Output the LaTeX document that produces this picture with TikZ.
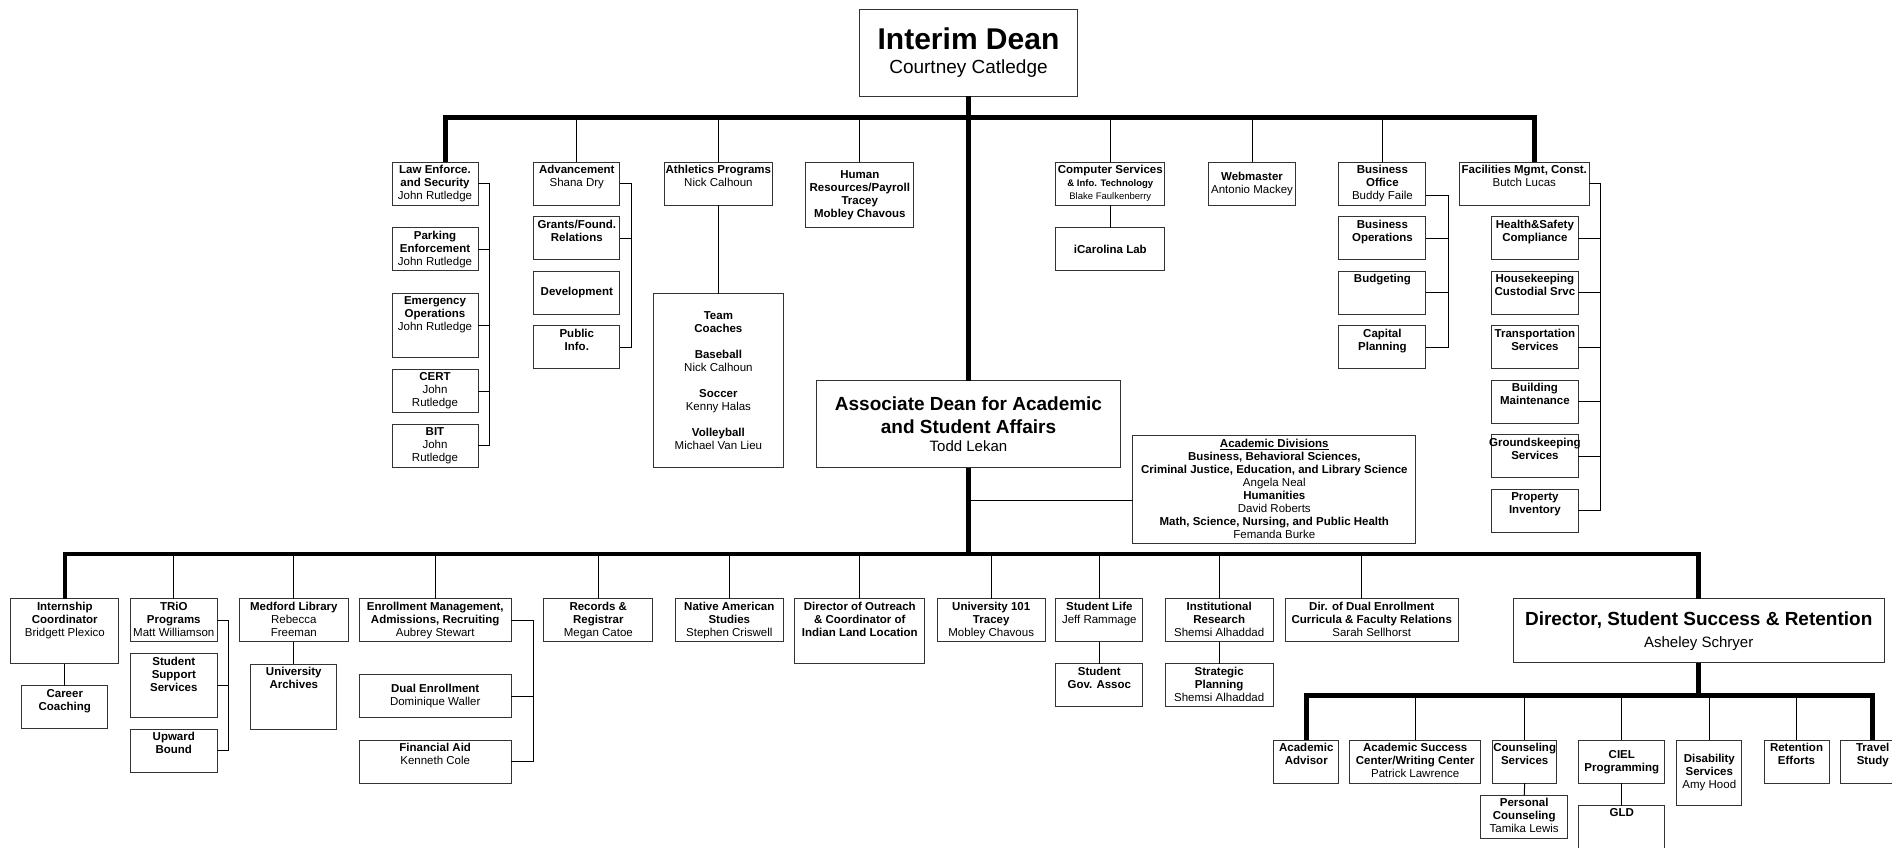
\documentclass[tikz,border=0pt]{standalone}
\usepackage{fontspec}
\setmainfont{Liberation Sans}
\newcommand\orgfont{\fontsize{11.5}{13}\selectfont}
\tikzset{
  orgbox/.style 2 args={draw=black!80, line width=1pt, minimum width=#1pt, minimum height=#2pt, inner sep=0pt, outer sep=0pt, align=center, font=\orgfont},
  toptext/.style={label={[headtext]north:{#1}}},
  headtext/.style={anchor=north, yshift=-3pt, inner sep=0pt, align=center, font=\orgfont},
  link/.style={line width=1pt},
  trunk/.style={line width=4.5pt, line join=miter},
}
\begin{document}
\begin{tikzpicture}[x=1pt,y=-1pt]
\useasboundingbox[fill=white] (0,0) rectangle (1892,848);

% dean and associate dean
\node[orgbox={218}{87}, font=\fontsize{19}{24}\selectfont] (dean) at (968.5,53) {\fontsize{30}{24}\selectfont\textbf{Interim Dean}\\Courtney Catledge};
\node[orgbox={304}{87}, font=\fontsize{19}{23}\selectfont] (assoc) at (968.5,424) {\textbf{Associate Dean for Academic}\\\textbf{and Student Affairs}\\[-5pt]\fontsize{15}{18}\selectfont Todd Lekan};
\node[orgbox={283}{108}] (acad) at (1274.3,489.2) {\underline{\textbf{Academic Divisions}}\\\textbf{Business, Behavioral Sciences,}\\\textbf{Criminal Justice, Education, and Library Science}\\Angela Neal\\\textbf{Humanities}\\David Roberts\\\textbf{Math, Science, Nursing, and Public Health}\\Femanda Burke};

% top row, left
\node[orgbox={86}{43}, toptext={\textbf{Law Enforce.}\\\textbf{and Security}\\John Rutledge}] (law) at (435,183.8) {};
\node[orgbox={86}{43}, toptext={\textbf{Parking}\\\textbf{Enforcement}\\John Rutledge}] (park) at (435,249.3) {};
\node[orgbox={86}{64}, toptext={\textbf{Emergency}\\\textbf{Operations}\\John Rutledge}] (emerg) at (435,325.5) {};
\node[orgbox={86}{43}, toptext={\textbf{CERT}\\John\\Rutledge}] (cert) at (435,391) {};
\node[orgbox={86}{43}, toptext={\textbf{BIT}\\John\\Rutledge}] (bit) at (435,445.7) {};

\node[orgbox={86}{43}, toptext={\textbf{Advancement}\\Shana Dry}] (adv) at (576.8,183.8) {};
\node[orgbox={86}{43}, toptext={\textbf{Grants/Found.}\\\textbf{Relations}}] (grants) at (576.8,238.3) {};
\node[orgbox={86}{43}] (dev) at (576.8,292.7) {\textbf{Development}};
\node[orgbox={86}{43}, toptext={\textbf{Public}\\\textbf{Info.}}] (pubinfo) at (576.8,347.3) {};

\node[orgbox={108}{43}, toptext={\textbf{Athletics Programs}\\Nick Calhoun}] (ath) at (718.4,183.8) {};
\node[orgbox={130}{174}] (coaches) at (718.4,380.5) {\textbf{Team}\\\textbf{Coaches}\\[13pt]\textbf{Baseball}\\Nick Calhoun\\[13pt]\textbf{Soccer}\\Kenny Halas\\[13pt]\textbf{Volleyball}\\Michael Van Lieu};
\node[orgbox={108}{65}] (hr) at (859.8,194.8) {\textbf{Human}\\\textbf{Resources/Payroll}\\\textbf{Tracey}\\\textbf{Mobley Chavous}};

% top row, right
\node[orgbox={109}{43}, toptext={\textbf{Computer Services}\\\fontsize{9.5}{11}\selectfont\textbf{\& Info. Technology}\\\fontsize{9.5}{11}\selectfont Blake Faulkenberry}] (cs) at (1110.3,183.8) {};
\node[orgbox={109}{43}] (icar) at (1110.3,249.2) {\textbf{iCarolina Lab}};
\node[orgbox={87}{43}] (web) at (1252,183.8) {\textbf{Webmaster}\\Antonio Mackey};
\node[orgbox={87}{43}, toptext={\textbf{Business}\\\textbf{Office}\\Buddy Faile}] (bo) at (1382.4,183.8) {};
\node[orgbox={87}{43}, toptext={\textbf{Business}\\\textbf{Operations}}] (bops) at (1382.4,238) {};
\node[orgbox={87}{43}, toptext={\textbf{Budgeting}}] (budg) at (1382.4,292.5) {};
\node[orgbox={87}{43}, toptext={\textbf{Capital}\\\textbf{Planning}}] (capp) at (1382.4,347.3) {};

\node[orgbox={130}{43}, toptext={\textbf{Facilities Mgmt, Const.}\\Butch Lucas}] (fac) at (1524.3,183.8) {};
\node[orgbox={87}{43}, toptext={\textbf{Health\&Safety}\\\textbf{Compliance}}] (health) at (1534.9,238) {};
\node[orgbox={87}{43}, toptext={\textbf{Housekeeping}\\\textbf{Custodial Srvc}}] (house) at (1534.9,292.5) {};
\node[orgbox={87}{43}, toptext={\textbf{Transportation}\\\textbf{Services}}] (trans) at (1534.9,347.3) {};
\node[orgbox={87}{43}, toptext={\textbf{Building}\\\textbf{Maintenance}}] (build) at (1534.9,401.7) {};
\node[orgbox={87}{43}, toptext={\textbf{Groundskeeping}\\\textbf{Services}}] (ground) at (1534.9,456.3) {};
\node[orgbox={87}{43}, toptext={\textbf{Property}\\\textbf{Inventory}}] (prop) at (1534.9,510.8) {};

% lower row
\node[orgbox={108}{65}, toptext={\textbf{Internship}\\\textbf{Coordinator}\\Bridgett Plexico}] (intern) at (64.8,631) {};
\node[orgbox={86}{43}, toptext={\textbf{Career}\\\textbf{Coaching}}] (career) at (64.8,707.3) {};
\node[orgbox={87}{43}, toptext={\textbf{TRiO}\\\textbf{Programs}\\Matt Williamson}] (trio) at (173.8,620.2) {};
\node[orgbox={87}{64}, toptext={\textbf{Student}\\\textbf{Support}\\\textbf{Services}}] (ssupp) at (173.8,685.5) {};
\node[orgbox={87}{43}, toptext={\textbf{Upward}\\\textbf{Bound}}] (upward) at (173.8,750.8) {};
\node[orgbox={109}{43}, toptext={\textbf{Medford Library}\\Rebecca\\Freeman}] (medford) at (293.8,620.2) {};
\node[orgbox={86}{65}, toptext={\textbf{University}\\\textbf{Archives}}] (archives) at (293.8,696.7) {};
\node[orgbox={152}{43}, toptext={\textbf{Enrollment Management,}\\\textbf{Admissions, Recruiting}\\Aubrey Stewart}] (enroll) at (435.2,620.2) {};
\node[orgbox={152}{43}] (dualen) at (435.2,696.3) {\textbf{Dual Enrollment}\\Dominique Waller};
\node[orgbox={152}{43}, toptext={\textbf{Financial Aid}\\Kenneth Cole}] (finaid) at (435.2,761.5) {};
\node[orgbox={109}{43}, toptext={\textbf{Records \&}\\\textbf{Registrar}\\Megan Catoe}] (records) at (598.3,620.2) {};
\node[orgbox={108}{43}, toptext={\textbf{Native American}\\\textbf{Studies}\\Stephen Criswell}] (native) at (729.3,620.2) {};
\node[orgbox={130}{65}, toptext={\textbf{Director of Outreach}\\\textbf{\& Coordinator of}\\\textbf{Indian Land Location}}] (outreach) at (859.8,631) {};
\node[orgbox={108}{43}, toptext={\textbf{University 101}\\\textbf{Tracey}\\Mobley Chavous}] (univ) at (991.2,620.2) {};
\node[orgbox={87}{43}, toptext={\textbf{Student Life}\\Jeff Rammage}] (stulife) at (1099.3,620.2) {};
\node[orgbox={87}{43}, toptext={\textbf{Student}\\\textbf{Gov. Assoc}}] (stugov) at (1099.3,685.3) {};
\node[orgbox={108}{43}, toptext={\textbf{Institutional}\\\textbf{Research}\\Shemsi Alhaddad}] (instres) at (1219.2,620.2) {};
\node[orgbox={108}{43}, toptext={\textbf{Strategic}\\\textbf{Planning}\\Shemsi Alhaddad}] (stratp) at (1219.2,685.3) {};
\node[orgbox={173}{43}, toptext={\textbf{Dir. of Dual Enrollment}\\\textbf{Curricula \& Faculty Relations}\\Sarah Sellhorst}] (dualdir) at (1371.7,620.2) {};
\node[orgbox={371}{64}, font=\fontsize{19}{22}\selectfont] (dirss) at (1698.7,630.9) {\textbf{Director, Student Success \& Retention}\\\fontsize{15}{18}\selectfont Asheley Schryer};

% student success row
\node[orgbox={65}{43}, toptext={\textbf{Academic}\\\textbf{Advisor}}] (advisor) at (1306.3,761.7) {};
\node[orgbox={131}{43}, toptext={\textbf{Academic Success}\\\textbf{Center/Writing Center}\\Patrick Lawrence}] (asc) at (1415.2,761.7) {};
\node[orgbox={64}{43}, toptext={\textbf{Counseling}\\\textbf{Services}}] (couns) at (1524.7,761.7) {};
\node[orgbox={87}{43}, toptext={\textbf{Personal}\\\textbf{Counseling}\\Tamika Lewis}] (perscoun) at (1524.2,816.7) {};
\node[orgbox={86}{43}] (ciel) at (1621.8,761.7) {\textbf{CIEL}\\\textbf{Programming}};
\node[orgbox={86}{45}, toptext={\textbf{GLD}}] (gld) at (1621.8,828) {};
\node[orgbox={65}{65}] (disab) at (1709.3,772.5) {\textbf{Disability}\\\textbf{Services}\\Amy Hood};
\node[orgbox={65}{43}, toptext={\textbf{Retention}\\\textbf{Efforts}}] (retent) at (1796.5,761.7) {};
\node[orgbox={65}{43}, toptext={\textbf{Travel}\\\textbf{Study}}] (travel) at (1872.7,761.7) {};

% buses
\coordinate (tb) at (968.5,117.3);
\coordinate (lb) at (968.5,554);
\coordinate (sb) at (1698.7,695.7);
\draw[trunk] (dean.south) -- (assoc.north);
\draw[trunk] (assoc.south) -- (lb);
\draw[trunk] ([xshift=10.4pt]law.north) |- (tb) -| ([xshift=10.3pt]fac.north);
\draw[trunk] (intern.north) |- (lb) -| (dirss.north);
\draw[trunk] (dirss.south) -- (sb);
\draw[trunk] (advisor.north) |- (sb) -| (travel.north);

\foreach \n in {adv,ath,hr,cs,web,bo} \draw[link] (\n.north) -- (\n.north |- tb);
\foreach \n in {trio,medford,enroll,records,native,outreach,univ,stulife,instres} \draw[link] (\n.north) -- (\n.north |- lb);
\draw[link] ([xshift=-10.7pt]dualdir.north) -- ([xshift=-10.7pt]dualdir.north |- lb);
\foreach \n in {asc,couns,ciel,disab,retent} \draw[link] (\n.north) -- (\n.north |- sb);
\draw[link] ([yshift=-11.5pt]acad.west) -- ([yshift=-11.5pt]acad.west -| assoc.south);

% single drops
\draw[link] (ath.south) -- (coaches.north);
\draw[link] (cs.south) -- (icar.north);
\draw[link] (intern.south) -- (career.north);
\draw[link] (medford.south) -- (archives.north);
\draw[link] (stulife.south) -- (stugov.north);
\draw[link] (instres.south) -- (stratp.north);
\draw[link] (couns.south) -- (perscoun.north);
\draw[link] (ciel.south) -- (gld.north);

% side brackets
\draw[link] (law.east) -- ++(11.8,0) |- (bit.east);
\foreach \n in {park,emerg,cert} \draw[link] (\n.east) -- ++(11.8,0);
\draw[link] (adv.east) -- ++(11.8,0) |- (pubinfo.east);
\draw[link] (grants.east) -- ++(11.8,0);
\draw[link] ([yshift=-11.2pt]bo.east) -- ++(22.5,0) |- (capp.east);
\foreach \n in {bops,budg} \draw[link] (\n.east) -- ++(22.5,0);
\draw[link] (fac.east) -- ++(11.5,0) |- (prop.east);
\foreach \n in {health,house,trans,build,ground} \draw[link] (\n.east) -- ++(22.6,0);
\draw[link] (trio.east) -- ++(11.5,0) |- (upward.east);
\draw[link] (ssupp.east) -- ++(11.5,0);
\draw[link] (enroll.east) -- ++(21.8,0) |- (finaid.east);
\draw[link] (dualen.east) -- ++(21.8,0);
\end{tikzpicture}
\end{document}
